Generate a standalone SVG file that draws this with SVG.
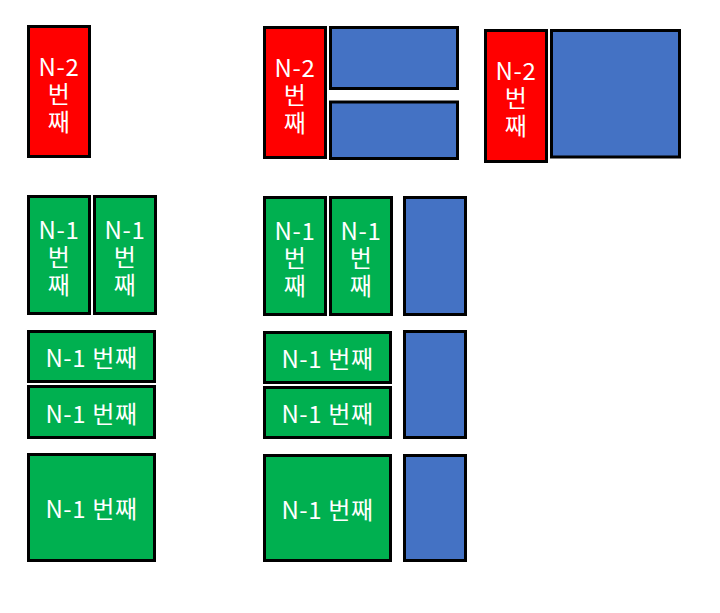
<svg xmlns="http://www.w3.org/2000/svg" width="720" height="613" viewBox="0 0 720 613">
<style>
rect{stroke:#000;stroke-width:3}
.r{fill:#FF0000}
.g{fill:#00B050}
.b{fill:#4472C4}
text{fill:#fff;font-family:"Noto Sans CJK KR","Noto Sans",sans-serif;font-size:24px;letter-spacing:0.6px;text-anchor:middle;dominant-baseline:central}
</style>
<rect width="720" height="613" fill="#fff" style="stroke:none"/>
<g id="red1"><rect class="r" x="28.5" y="26.5" width="61" height="130"/>
<text><tspan x="59" y="64.5">N-2</tspan><tspan x="59" y="91.5">번</tspan><tspan x="59" y="119.5">째</tspan></text></g>
<g id="red2"><rect class="r" x="264.5" y="27.5" width="61" height="130"/>
<text><tspan x="295" y="65.5">N-2</tspan><tspan x="295" y="92.5">번</tspan><tspan x="295" y="120.5">째</tspan></text></g>
<g id="blue-top"><rect class="b" x="330.5" y="27.5" width="127" height="61"/></g>
<g id="blue-bottom"><rect class="b" x="330.5" y="102" width="127" height="56.5"/></g>
<g id="red3"><rect class="r" x="485.5" y="30.5" width="61" height="131"/>
<text><tspan x="516" y="69">N-2</tspan><tspan x="516" y="96">번</tspan><tspan x="516" y="124">째</tspan></text></g>
<g id="blue-big"><rect class="b" x="551.5" y="30.5" width="128" height="126.5"/></g>

<g id="g1a"><rect class="g" x="28.5" y="196.5" width="61" height="117"/>
<text><tspan x="59" y="228">N-1</tspan><tspan x="59" y="255">번</tspan><tspan x="59" y="283">째</tspan></text></g>
<g id="g1b"><rect class="g" x="94.5" y="196.5" width="61" height="117"/>
<text><tspan x="125" y="228">N-1</tspan><tspan x="125" y="255">번</tspan><tspan x="125" y="283">째</tspan></text></g>
<g id="h1a"><rect class="g" x="28.5" y="331.5" width="126" height="50"/>
<text x="91.5" y="356.5">N-1 번째</text></g>
<g id="h1b"><rect class="g" x="28.5" y="386.5" width="126" height="51"/>
<text x="91.5" y="412">N-1 번째</text></g>
<g id="big1"><rect class="g" x="28.5" y="454.5" width="126" height="106"/>
<text x="91.5" y="507.5">N-1 번째</text></g>

<g id="g2a"><rect class="g" x="264.5" y="197.5" width="61" height="117"/>
<text><tspan x="295" y="229">N-1</tspan><tspan x="295" y="256">번</tspan><tspan x="295" y="284">째</tspan></text></g>
<g id="g2b"><rect class="g" x="330.5" y="197.5" width="61" height="117"/>
<text><tspan x="361" y="229">N-1</tspan><tspan x="361" y="256">번</tspan><tspan x="361" y="284">째</tspan></text></g>
<g id="blue-v1"><rect class="b" x="404.5" y="197.5" width="61" height="117"/></g>
<g id="h2a"><rect class="g" x="264.5" y="332.5" width="126" height="50"/>
<text x="327.5" y="357.5">N-1 번째</text></g>
<g id="h2b"><rect class="g" x="264.5" y="387.5" width="126" height="50"/>
<text x="327.5" y="412.5">N-1 번째</text></g>
<g id="blue-v2"><rect class="b" x="404.5" y="331.5" width="61" height="106"/></g>
<g id="big2"><rect class="g" x="264.5" y="455.5" width="126" height="105"/>
<text x="327.5" y="508">N-1 번째</text></g>
<g id="blue-v3"><rect class="b" x="404.5" y="455.5" width="61" height="105"/></g>
<g id="connectors"></g>
</svg>
